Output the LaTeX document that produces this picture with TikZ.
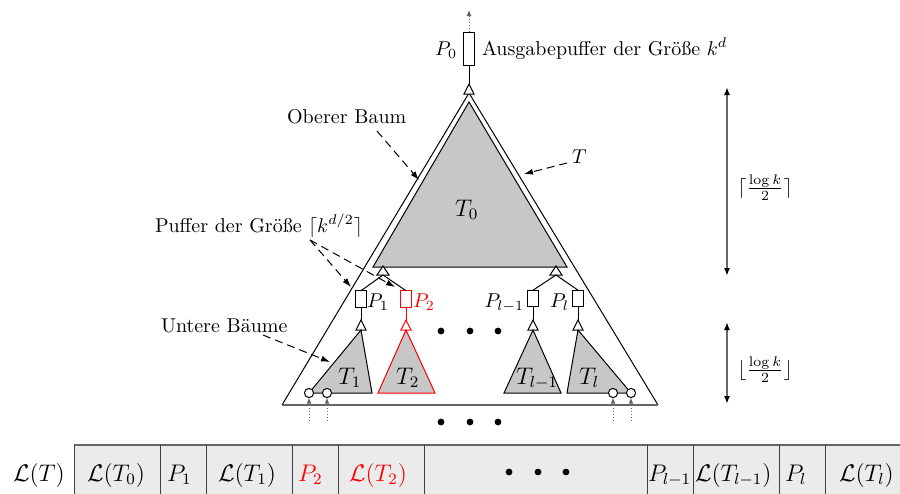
\documentclass[tikz,border=0pt]{standalone}
\usetikzlibrary{arrows.meta}
\begin{document}
\begin{tikzpicture}[x=0.5pt,y=-0.5pt,
  every node/.style={inner sep=0pt,outer sep=0pt},
  ln/.style={line width=0.5pt},
  buf/.style={draw,line width=0.5pt,fill=white,minimum width=5.5pt,minimum height=8.3pt},
  stri/.style={draw,line width=0.5pt,fill=white},
  subtree/.style={draw,line width=0.5pt,fill=black!22},
  ann/.style={line width=0.5pt,dash pattern=on 4pt off 2.5pt,-{Latex[length=4.5pt,width=3pt]}},
  inp/.style={draw=black!60,line width=0.5pt,densely dotted,-{Latex[length=3pt,width=2.5pt]}},
  dimarr/.style={draw=black!60,line width=0.9pt,{Latex[length=4pt,width=3pt,color=black]}-{Latex[length=4pt,width=3pt,color=black]}},
  bigdot/.style={circle,fill=black,minimum size=3.4pt},
  leaf/.style={circle,draw,fill=white,line width=0.5pt,minimum size=4.6pt},
  lbl/.style={anchor=base west},
  lblr/.style={anchor=base east},
  cellsep/.style={draw=black!75,line width=0.5pt}
]
\useasboundingbox (0,0) rectangle (900,493);

% ---------- outer tree T ----------
\coordinate (Ta) at (469,93);
\coordinate (Tl) at (282,405);
\coordinate (Tr) at (658,405);
\draw[ln] (Tl) -- (Ta) -- (Tr);
\draw[black!60,line width=0.8pt] (Tl) -- (Tr);

% ---------- upper tree T0 ----------
\draw[subtree] (469,102) -- (373,267) -- (567,267) -- cycle;
\node[lbl,font=\large] (t0) at (455,216) {$T_0$};

% ---------- output buffer ----------
\node[buf,minimum height=16.5pt] (p0) at (469,48.5) {};
\coordinate (out) at (469,10);
\draw[inp] (p0.north) -- (out);
\draw[stri] (469,84) coordinate (a0) -- (464,94) -- (474,94) -- cycle;
\draw[ln] (p0.south) -- (a0);
\node[lblr] (p0l) at (457,55) {$P_0$};
\node[lbl] (ausg) at (482,55) {Ausgabepuffer der Größe $k^d$};

% ---------- small triangles below T0 ----------
\draw[stri] (383,266) -- (377,275) -- (389,275) -- cycle;
\coordinate (ba) at (383,275);
\draw[stri] (556,266) -- (550,275) -- (562,275) -- cycle;
\coordinate (bb) at (556,275);

% ---------- buffers ----------
\node[buf] (p1) at (361,299) {};
\node[buf,draw=red] (p2) at (406,299) {};
\node[buf] (pl1) at (533,298.5) {};
\node[buf] (pl) at (578,298.5) {};
\draw[ln] (ba) -- (p1.north);
\draw[ln] (ba) -- (p2.north);
\draw[ln] (bb) -- (pl1.north);
\draw[ln] (bb) -- (pl.north);
\node[lbl] (p1l) at (367,307) {$P_1$};
\node[lbl,text=red] (p2l) at (413,307) {$P_2$};
\node[lblr] (pl1l) at (524,307) {$P_{l-1}$};
\node[lblr] (pll) at (569,307) {$P_l$};

% ---------- lower trees ----------
\coordinate (c1) at (361,320);
\draw[ln] (p1.south) -- (c1);
\draw[stri] (c1) -- (356,330) -- (366,330) -- cycle;
\draw[subtree] (361,330) -- (309,393) -- (372,393) -- cycle;
\node[lbl,font=\large] (t1) at (338,384) {$T_1$};
\coordinate (c2) at (406,320);
\draw[ln,red] (p2.south) -- (c2);
\draw[stri,draw=red] (c2) -- (401,330) -- (411,330) -- cycle;
\draw[subtree,draw=red] (406,330) -- (378,393) -- (435,393) -- cycle;
\node[lbl,font=\large] (t2) at (396,384) {$T_2$};
\coordinate (c3) at (533,320);
\draw[ln] (pl1.south) -- (c3);
\draw[stri] (c3) -- (528,330) -- (538,330) -- cycle;
\draw[subtree] (533,330) -- (504,393) -- (561,393) -- cycle;
\node[lbl,font=\large] (t3) at (516,384) {$T_{l-1}$};
\coordinate (c4) at (578,320);
\draw[ln] (pl.south) -- (c4);
\draw[stri] (c4) -- (573,330) -- (583,330) -- cycle;
\draw[subtree] (578,330) -- (567,393) -- (631,393) -- cycle;
\node[lbl,font=\large] (t4) at (579,384) {$T_l$};

% leaves / inputs
\node[leaf] (i1) at (309,393) {};
\node[leaf] (i2) at (327,393) {};
\node[leaf] (i3) at (613,393) {};
\node[leaf] (i4) at (631,393) {};
\coordinate (s1) at (309,421);
\coordinate (s2) at (327,421);
\coordinate (s3) at (613,421);
\coordinate (s4) at (631,421);
\draw[inp] (s1) -- (i1.south);
\draw[inp] (s2) -- (i2.south);
\draw[inp] (s3) -- (i3.south);
\draw[inp] (s4) -- (i4.south);

% dots
\foreach \x/\n in {441/a,470/b,498/c}{
  \node[bigdot] (m\n) at (\x,331) {};
  \node[bigdot] (n\n) at (\x,422) {};
}

% ---------- annotations ----------
\node[lbl] (ob) at (287,123) {Oberer Baum};
\coordinate (obs) at (377,131);
\coordinate (obe) at (419,180);
\draw[ann] (obs) -- (obe);

\node[lbl] (tt) at (572,163) {$T$};
\coordinate (tts) at (567,163);
\coordinate (tte) at (524,174);
\draw[ann] (tts) -- (tte);

\node[lbl] (pu) at (155,232) {Puffer der Größe $\lceil k^{d/2}\rceil$};
\coordinate (pus) at (310,240);
\coordinate (pue1) at (351,287);
\coordinate (pue2) at (395,287);
\draw[ann] (pus) -- (pue1);
\draw[ann] (pus) -- (pue2);

\node[lbl] (ub) at (161,332) {Untere Bäume};
\coordinate (ubs) at (263,335);
\coordinate (ube) at (330,362);
\draw[ann] (ubs) -- (ube);

% ---------- dimensions ----------
\coordinate (d1t) at (727,87);
\coordinate (d1b) at (727,276);
\draw[dimarr] (d1t) -- (d1b);
\node (d1l) at (765,188) {$\lceil\frac{\log k}{2}\rceil$};
\coordinate (d2t) at (727,322);
\coordinate (d2b) at (727,404);
\draw[dimarr] (d2t) -- (d2b);
\node (d2l) at (765,370) {$\lfloor\frac{\log k}{2}\rfloor$};

% ---------- layout list ----------
\fill[black!8] (74,445) rectangle (900,495);
\draw[black!60,line width=0.8pt] (74,445) -- (900,445);
\foreach \x in {74,160,206,292,338,424,647,693,779,825}{
  \draw[cellsep] (\x,445) -- (\x,495);
}
\node[lbl,font=\large] (lt) at (13,481) {$\mathcal{L}(T)$};
\node[lbl,font=\large] (l0) at (87,481) {$\mathcal{L}(T_0)$};
\node[lbl,font=\large] (q1) at (167,481) {$P_1$};
\node[lbl,font=\large] (l1) at (218,481) {$\mathcal{L}(T_1)$};
\node[lbl,font=\large,text=red] (q2) at (298,481) {$P_2$};
\node[lbl,font=\large,text=red] (l2) at (349,481) {$\mathcal{L}(T_2)$};
\foreach \x/\n in {509/a,538/b,566/c}{
  \node[bigdot] (ld\n) at (\x,472) {};
}
\node[lbl,font=\large] (q3) at (648,481) {$P_{l-1}$};
\node[lbl,font=\large] (l3) at (695,481) {$\mathcal{L}(T_{l-1})$};
\node[lbl,font=\large] (q4) at (785,481) {$P_l$};
\node[lbl,font=\large] (l4) at (839,481) {$\mathcal{L}(T_l)$};
\end{tikzpicture}
\end{document}
